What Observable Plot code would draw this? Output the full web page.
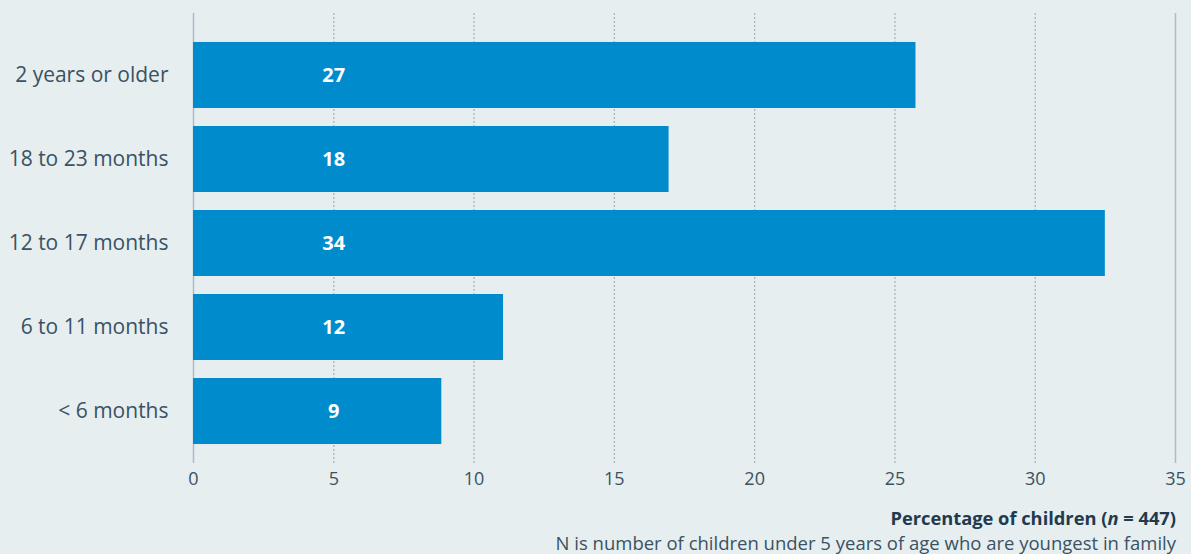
<!DOCTYPE html>
<html>
<head>
<meta charset="utf-8">
<script src="https://cdn.jsdelivr.net/npm/d3@7"></script>
<script src="https://cdn.jsdelivr.net/npm/@observablehq/plot@0.6"></script>
<style>
  html, body { margin: 0; padding: 0; background: #e6eef0; }
  body { width: 1191px; height: 554px; overflow: hidden; font-family: "Open Sans", sans-serif; color: #3a5263; }
  #foot { width: 1191px; box-sizing: border-box; padding-right: 15px; text-align: right; }
  #foot .t { font-weight: 700; font-size: 18.3px; line-height: 25px; color: #213a4d; }
  #foot .c { font-size: 18.5px; line-height: 25px; color: #3a5263; }
</style>
</head>
<body>
<div id="chart"></div>
<div id="foot">
  <div class="t">Percentage of children (<i>n</i> = 447)</div>
  <div class="c">N is number of children under 5 years of age who are youngest in family</div>
</div>
<script>
const categories = ["2 years or older", "18 to 23 months", "12 to 17 months", "6 to 11 months", "< 6 months"];
const barValues = [25.75, 16.95, 32.5, 11.05, 8.85];
const barLabels = [27, 18, 34, 12, 9];
const xTicks = [0, 5, 10, 15, 20, 25, 30, 35];
const dashedTicks = [5, 10, 15, 20, 25, 30];
const solidTicks = [0, 35];

const data = categories.map((c, i) => ({category: c, value: barValues[i], label: barLabels[i]}));

const chart = Plot.plot({
  width: 1191,
  height: 505,
  marginLeft: 193,
  marginRight: 16,
  marginTop: 13,
  marginBottom: 42,
  style: {background: "transparent", fontFamily: "'Open Sans', sans-serif", fontSize: "18px", color: "#3a5263"},
  x: {domain: [0, 35], ticks: xTicks, label: null},
  y: {domain: categories, paddingInner: 0.2143, paddingOuter: 0.226, insetTop: 10, round: false, label: null},
  marks: [
    Plot.ruleX(dashedTicks, {stroke: "#aab6bc", strokeWidth: 1.3, strokeDasharray: "2,2"}),
    Plot.ruleX(solidTicks, {stroke: "#b0bcc2", strokeWidth: 1.5}),
    Plot.barX(data, {x: "value", y: "category", fill: "#008ccc"}),
    Plot.text(data, {x: () => 5, y: "category", text: d => String(d.label), fill: "white", fontWeight: 700, fontSize: 20}),
    Plot.axisX({ticks: xTicks, tickSize: 0, tickPadding: 9, fontSize: 18, label: null, color: "#3a5263"}),
    Plot.axisY({tickSize: 0, tickPadding: 25, fontSize: 21, label: null, color: "#3a5263"})
  ]
});
document.getElementById("chart").appendChild(chart);
</script>
</body>
</html>
